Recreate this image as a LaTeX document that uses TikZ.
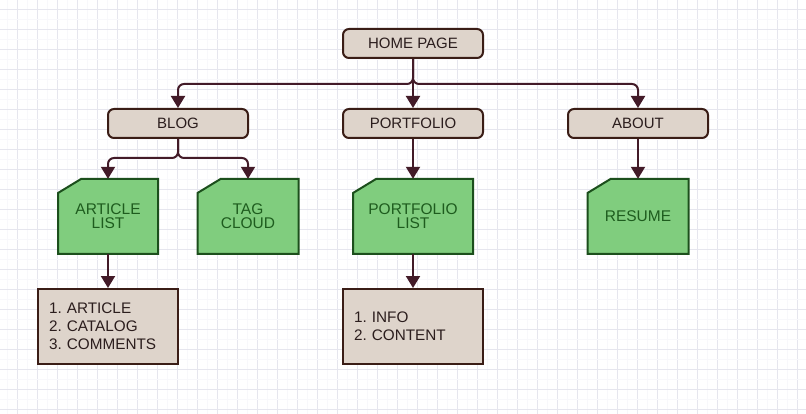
\documentclass[tikz,border=0pt]{standalone}
\usepackage{fontspec}
\setmainfont{Liberation Sans}
\usetikzlibrary{arrows.meta}
\definecolor{beigefill}{HTML}{DED4CB}
\definecolor{beigeline}{HTML}{3A1D16}
\definecolor{beigetext}{HTML}{2B1D1D}
\definecolor{greenfill}{HTML}{80CD7E}
\definecolor{greenline}{HTML}{1C4F1C}
\definecolor{greentext}{HTML}{1E5C1E}
\definecolor{conn}{HTML}{431B28}
\definecolor{gridc}{HTML}{E6E6EE}
\definecolor{gridm}{HTML}{F8F8FB}
\tikzset{
  gridline/.style={draw=gridc, line width=0.8pt},
  gridminor/.style={draw=gridm, line width=0.5pt},
  topbox/.style={draw=beigeline, fill=beigefill, line width=2pt, rounded corners=6pt,
    minimum width=140, minimum height=29, inner sep=0pt, text=beigetext,
    font=\fontsize{15}{14}\selectfont},
  listbox/.style={draw=beigeline, fill=beigefill, line width=2pt,
    minimum width=140, minimum height=75, inner sep=0pt, text width=118, align=left,
    text=beigetext, font=\fontsize{15.3}{18}\selectfont\frenchspacing},
  cardshape/.style={draw=greenline, fill=greenfill, line width=2pt, line join=miter},
  cardtext/.style={draw=none, minimum height=75, inner sep=0pt, align=center,
    text=greentext, font=\fontsize{15.5}{14}\selectfont},
  conline/.style={draw=conn, line width=2pt, rounded corners=6pt,
    -{Triangle[width=14pt,length=12pt]}},
}
\newcommand\mycard[5]{%
  \path[cardshape] ({#2-#4/2},{#3-23.5}) -- ({#2-#4/2+23},{#3-37.5}) -- ({#2+#4/2},{#3-37.5})
    -- ({#2+#4/2},{#3+37.5}) -- ({#2-#4/2},{#3+37.5}) -- cycle;
  \node[cardtext, minimum width=#4] (#1) at (#2,#3) {#5};
}
\begin{document}
\begin{tikzpicture}[x=1pt,y=-1pt]
\useasboundingbox (0,0) rectangle (806,414);
\fill[white] (0,0) rectangle (806,414);
\foreach \i in {0,...,40} {
  \draw[gridminor] ({7.5+20*\i},0) -- ({7.5+20*\i},414);
  \draw[gridline] ({17.5+20*\i},0) -- ({17.5+20*\i},414);
}
\foreach \j in {0,...,21} {
  \draw[gridminor] (0,{-1+20*\j}) -- (806,{-1+20*\j});
  \draw[gridline] (0,{9+20*\j}) -- (806,{9+20*\j});
}

\node[topbox] (home) at (413,43.5) {HOME PAGE};
\node[topbox] (blog) at (178,123.5) {BLOG};
\node[topbox] (port) at (413,123.5) {PORTFOLIO};
\node[topbox] (about) at (638,123.5) {ABOUT};

\mycard{alist}{108}{216.5}{100}{ARTICLE\\LIST}
\mycard{tag}{248}{216.5}{101}{TAG\\CLOUD}
\mycard{plist}{413}{216.5}{120}{PORTFOLIO\\LIST}
\mycard{resume}{638}{216.5}{101}{RESUME}

\node[listbox] (alitems) at (108,326.5) {1. ARTICLE\\2. CATALOG\\3. COMMENTS};
\node[listbox] (pitems) at (413,326.5) {1. INFO\\2. CONTENT};

\coordinate (j1) at (413,84);
\coordinate (j2) at (178,158);

\draw[conline] (home.south) -- (j1) -| (blog.north);
\draw[conline] (home.south) -- (j1) -| (about.north);
\draw[conline] (home.south) -- (port.north);
\draw[conline] (blog.south) -- (j2) -| (alist.north);
\draw[conline] (blog.south) -- (j2) -| (tag.north);
\draw[conline] (port.south) -- (plist.north);
\draw[conline] (about.south) -- (resume.north);
\draw[conline] (alist.south) -- (alitems.north);
\draw[conline] (plist.south) -- (pitems.north);
\end{tikzpicture}
\end{document}
